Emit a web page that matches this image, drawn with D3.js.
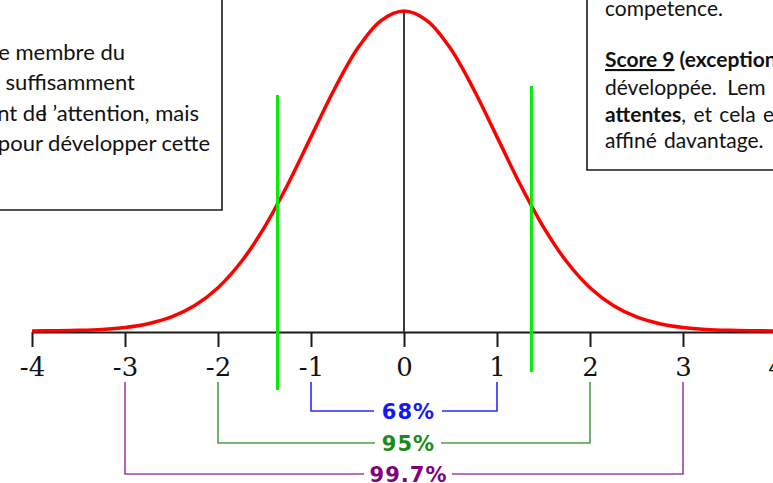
<!DOCTYPE html>
<html><head><meta charset="utf-8">
<script src="https://cdn.jsdelivr.net/npm/d3@7/dist/d3.min.js"></script>
<style>
html,body{margin:0;padding:0;background:#fff;overflow:hidden;}
svg{display:block;}
</style></head>
<body>
<svg id="chart" width="773" height="483"></svg>
<script>
// ---- data ----
const zValues = [-4,-3.75,-3.5,-3.25,-3,-2.75,-2.5,-2.25,-2,-1.75,-1.5,-1.25,-1,-0.75,-0.5,-0.25,0,0.25,0.5,0.75,1,1.25,1.5,1.75,2,2.25,2.5,2.75,3,3.25,3.5,3.75,4];
const density = [0.0001,0.0004,0.0009,0.0020,0.0044,0.0091,0.0175,0.0317,0.0540,0.0863,0.1295,0.1826,0.2420,0.3011,0.3521,0.3867,0.3989,0.3867,0.3521,0.3011,0.2420,0.1826,0.1295,0.0863,0.0540,0.0317,0.0175,0.0091,0.0044,0.0020,0.0009,0.0004,0.0001];
const tickValues = [-4,-3,-2,-1,0,1,2,3,4];
const tickLabels = ["-4","-3","-2","-1","0","1","2","3","4"];
const bracketSigmas = [1,2,3];
const bracketLabels = ["68%","95%","99.7%"];
const greenMarks = [-1.36, 1.37];
const leftBoxLines = ["e membre du","suffisamment","nt de l’attention, mais","pour développer cette"];

const svg = d3.select("#chart");
const x = d3.scaleLinear().domain([-4,4]).range([32,776]);
const y = d3.scaleLinear().domain([0,0.3989]).range([331,11]);
const axisY = 332;

// ---- text boxes ----
const boxFont = "Lato, 'Open Sans', sans-serif";
const lb = svg.append("g");
lb.append("path").attr("d","M222,-2V210H-2").attr("fill","none").attr("stroke","#1a1a1a").attr("stroke-width",1.6);
const lEnds = [125,135,199,210];
const lBase = [60,90,121,151];
leftBoxLines.forEach((t,i)=>{
  const tx = lb.append("text").attr("x",lEnds[i]).attr("y",lBase[i]).attr("text-anchor","end")
    .attr("font-family",boxFont).attr("font-size",22).attr("fill","#111");
  if(i===2){
    tx.append("tspan").text("nt de");
    tx.append("tspan").attr("dx",-5).text("l");
    tx.append("tspan").text(" ’attention, mais");
  } else tx.text(t);
});

const rb = svg.append("g");
rb.append("path").attr("d","M587,-2V170H775").attr("fill","none").attr("stroke","#1a1a1a").attr("stroke-width",1.6);
function rline(yb){return rb.append("text").attr("x",605).attr("y",yb).attr("font-family",boxFont).attr("font-size",21).attr("fill","#111");}
rline(16).text("competence.");
const r2 = rline(67);
r2.append("tspan").attr("font-weight","bold").attr("text-decoration","underline").text("Score 9");
r2.append("tspan").attr("font-weight","bold").text(" (exception");
rline(95).attr("word-spacing",5).text("développée. Lem");
const r4 = rline(122);
r4.append("tspan").attr("font-weight","bold").text("attentes");
r4.append("tspan").attr("word-spacing",2).text(", et cela e");
rline(148).attr("word-spacing",2).text("affiné davantage.");

// ---- axis ----
const axis = d3.axisBottom(x).tickValues(tickValues).tickFormat((d,i)=>tickLabels[i]).tickSize(15).tickSizeOuter(0);
const ag = svg.append("g").attr("transform",`translate(0,${axisY})`).call(axis);
ag.select(".domain").attr("stroke","#1a1a1a").attr("stroke-width",2);
ag.selectAll(".tick line").attr("stroke","#1a1a1a").attr("stroke-width",2);
ag.selectAll(".tick text").attr("y",44).attr("dy",0)
  .attr("font-family","'DejaVu Serif', 'Liberation Serif', serif").attr("font-size",26).attr("fill","#111");

// centre line
svg.append("line").attr("x1",x(0)).attr("x2",x(0)).attr("y1",y(0.3989)).attr("y2",axisY)
  .attr("stroke","#3a3a3a").attr("stroke-width",2);

// ---- curve ----
const pts = zValues.map((z,i)=>[z,density[i]]);
svg.append("path").datum(pts)
  .attr("d",d3.line().x(d=>x(d[0])).y(d=>y(d[1])).curve(d3.curveCatmullRom))
  .attr("fill","none").attr("stroke","#ff0000").attr("stroke-width",3.5);

// ---- green markers ----
const gTop = [95,86], gBot = [390,372];
greenMarks.forEach((z,i)=>{
  svg.append("line").attr("x1",x(z)).attr("x2",x(z)).attr("y1",gTop[i]).attr("y2",gBot[i])
    .attr("stroke","#00ee00").attr("stroke-width",3);
});

// ---- brackets ----
const lineCols = ["#2a2aff","#4a9e4a","#a040a8"];
const textCols = ["#1515ff","#1a8a1a","#800080"];
const bY = [411,443,474];
const gapHalf = [34,33,44];
bracketSigmas.forEach((s,i)=>{
  const cx = x(0)+4;
  const g = svg.append("g").attr("fill","none").attr("stroke",lineCols[i]).attr("stroke-width",1.6);
  g.append("path").attr("d",`M${x(-s)},382V${bY[i]}H${cx-gapHalf[i]}`);
  g.append("path").attr("d",`M${x(s)},382V${bY[i]}H${cx+gapHalf[i]}`);
  svg.append("text").attr("x",cx+0.5).attr("y",bY[i]).attr("dy","0.36em").attr("text-anchor","middle")
    .attr("font-family","'DejaVu Sans', Verdana, sans-serif").attr("font-weight","bold").attr("font-size",21)
    .attr("letter-spacing",1).attr("fill",textCols[i]).text(bracketLabels[i]);
});
</script>
</body></html>
